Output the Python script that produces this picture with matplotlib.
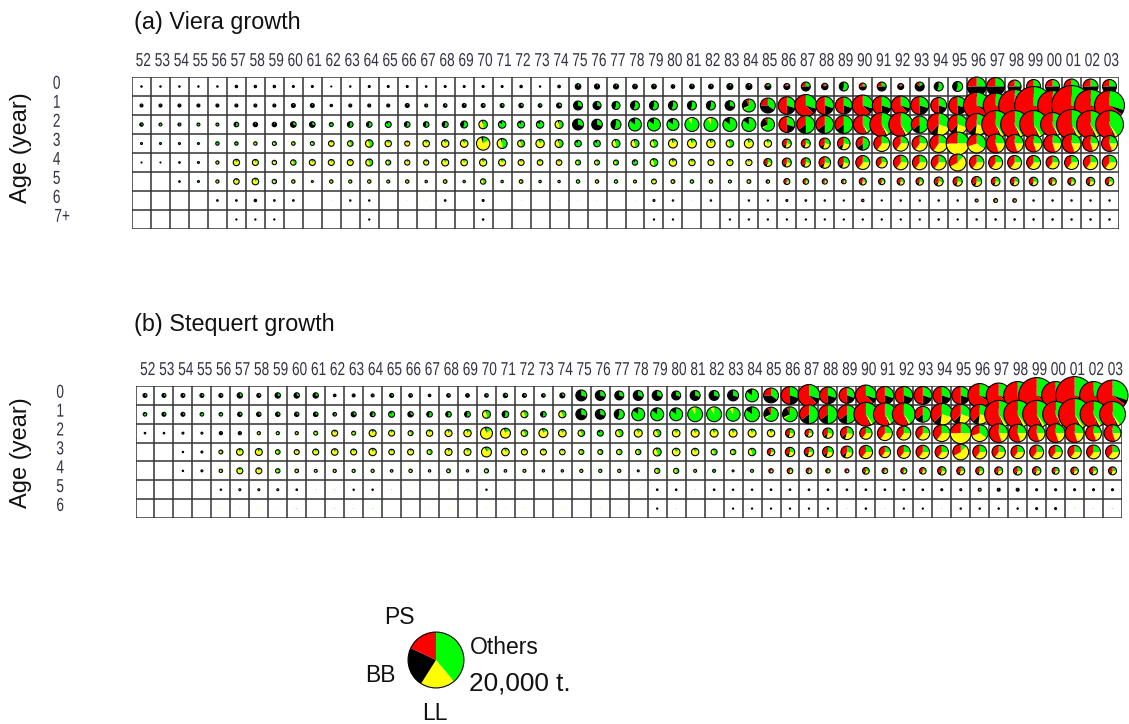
import numpy as np
import matplotlib
matplotlib.use('Agg')
import matplotlib.pyplot as plt
from matplotlib.patches import Wedge, Circle
from matplotlib.patheffects import AbstractPathEffect
from matplotlib.transforms import Affine2D

plt.rcParams['font.family'] = ['Liberation Sans', 'DejaVu Sans']

years = ['%02d' % (y % 100) for y in range(1952, 2004)]

# catch by age (t), 1952-2003
viera_0 = [12,12,12,12,12,37,37,37,25,25,6,12,25,25,
           25,16,25,25,25,25,37,12,43,200,160,160,135,135,83,135,135,230,230,
           230,230,516,260,516,312,516,230,516,516,638,2300,2070,1077,1250,1250,1435,1435,1250]
viera_1 = [57,57,57,57,57,57,57,57,100,100,37,57,57,57,
           100,57,83,100,100,100,123,83,160,516,408,408,516,516,516,516,516,588,1077,
           1435,1975,3090,2070,1840,2810,2300,2300,2070,1630,2070,4510,3985,6530,9200,5740,10200,6530,5740]
viera_2 = [74,57,57,57,57,135,123,123,200,200,100,200,200,230,
           200,200,230,312,472,350,312,350,408,770,716,638,1077,1077,918,1250,1250,1250,1250,
           1145,1630,2070,2070,2070,2300,3670,3670,1840,3370,2550,3090,5000,5000,5000,3670,5740,5000,5000]
viera_3 = [25,25,25,25,74,74,74,100,83,100,200,200,368,260,
           160,278,350,368,1145,638,312,450,408,278,278,408,408,350,516,516,450,350,516,
           350,516,516,770,1012,1145,1630,1512,1512,2070,3370,2300,2300,2070,1840,2070,2300,1630,1630]
viera_4 = [6,6,16,25,65,260,230,123,186,230,230,230,312,160,
           172,172,312,278,330,312,230,200,200,160,160,160,186,368,350,260,230,245,245,
           408,516,563,858,828,1250,770,1359,1359,1435,1840,1359,1250,1250,1250,1077,1250,1322,1359]
viera_5 = [0,0,16,25,65,200,278,123,74,25,74,65,74,57,
           74,37,83,37,186,37,83,37,37,74,74,74,57,147,92,74,74,57,92,
           74,230,200,172,135,312,260,330,350,516,540,638,472,472,472,350,368,450,450]
viera_6 = [0,0,0,0,16,16,37,16,16,0,4,12,12,0,
           4,4,16,0,25,0,4,0,4,4,4,4,4,25,12,4,12,4,12,
           9,25,16,12,9,37,9,12,12,12,12,57,100,83,12,12,12,12,12]
viera_7 = [0,0,0,0,0,9,9,9,0,0,0,0,9,0,
           0,0,0,0,12,0,0,0,0,0,0,0,0,9,9,0,0,9,9,
           9,9,9,9,9,9,9,9,9,12,9,12,12,12,12,12,12,12,12]

steq_0 = [100,100,100,100,100,186,100,186,186,186,43,57,57,100,
          83,43,83,83,83,123,100,83,160,770,638,516,638,638,516,638,638,770,1077,
          1435,2070,3090,1840,1630,2810,2070,2070,2070,2070,2070,3670,3985,5000,8270,5000,9200,5000,6125]
steq_1 = [83,100,100,83,83,123,123,123,123,135,83,160,160,230,
          186,200,200,214,408,278,312,200,330,770,638,638,1077,1077,1077,1435,1435,1250,1435,
          1322,1435,2300,2300,2300,3670,3370,3370,1630,3090,2550,2550,5000,5000,5000,4310,6530,4650,4310]
steq_2 = [16,16,25,25,65,65,65,65,65,100,230,100,312,230,
          160,260,312,350,918,638,278,516,368,278,230,350,408,330,368,408,408,408,408,
          350,516,408,690,1077,980,1435,1250,1250,1840,2810,1840,2300,2070,1840,2300,2300,1630,1840]
steq_3 = [0,0,12,25,100,278,312,135,160,230,278,230,350,200,
          230,160,312,312,638,368,230,230,200,160,160,186,186,408,368,350,230,186,350,
          350,563,563,770,918,1145,828,1077,1180,1145,1630,1250,1145,1145,1250,1145,1145,1250,1250]
steq_4 = [0,0,12,25,74,230,230,123,83,57,65,65,65,43,
          74,37,92,37,112,43,57,37,37,65,65,65,25,172,172,57,57,25,57,
          123,200,200,123,100,295,200,230,278,450,408,408,408,450,450,312,368,408,408]
steq_5 = [0,0,0,0,12,25,25,25,16,4,4,12,12,4,
          4,4,4,4,12,4,4,0,4,4,4,4,4,16,16,4,16,12,12,
          16,16,16,16,16,16,16,16,16,25,25,57,57,57,25,25,25,25,25]
steq_6 = [0,0,0,0,4,4,4,4,4,0,4,4,4,0,
          0,4,4,0,4,4,4,0,4,0,4,4,0,9,4,0,0,9,9,
          9,9,9,9,4,12,4,9,9,4,12,12,12,12,25,25,4,4,4]

viera_catch = [viera_0, viera_1, viera_2, viera_3, viera_4, viera_5, viera_6, viera_7]
steq_catch = [steq_0, steq_1, steq_2, steq_3, steq_4, steq_5, steq_6]

# gear mix of each cell, one letter per year (see gear_mix)
# shares are Others, LL, BB, PS
gear_mix = {
    'a': (.10, 0, .90, 0), 'b': (.30, 0, .70, 0), 'c': (.55, 0, .45, 0),
    'g': (.85, 0, .15, 0), 'L': (.92, .08, 0, 0), 'o': (.50, .45, .05, 0),
    'y': (.15, .80, .05, 0), 'e': (.15, 0, .70, .15), 'N': (.25, 0, .50, .25),
    'h': (.65, .03, .25, .07), 'D': (.35, 0, .40, .25), 'B': (.30, 0, .20, .50),
    'R': (.30, 0, .08, .62), 'S': (.30, 0, .05, .65), 'T': (.50, 0, .15, .35),
    'U': (.40, .03, .02, .55), 'X': (.30, .22, .10, .38), 'W': (.25, .35, 0, .40),
    'Z': (.25, .50, 0, .25), 'Y': (.35, .35, 0, .30), 'Q': (.25, .20, 0, .55),
    'J': (.12, .55, 0, .33), 'P': (.28, .27, .10, .35),
}
viera_mix = [
    'aaaaaaaaaaaaaa' 'aaaaaaaaa' 'aaaaaaaaaa' 'eeNecNNeecc' 'NNNNNNNN',
    'aaaaaaaaaaaaaa' 'abbabbbbb' 'bbccccccbh' 'DBRBBRBRBBB' 'SSSSSSSS',
    'bgcggcaabbgccg' 'ccccogggo' 'bbcgggLLgg' 'hBTTTUUUTXX' 'XUUUUUUU',
    'ggggggooooyooy' 'yyyyyooyo' 'ggoooyyyoy' 'yPPPPTWWWWZ' 'YQQQQQQQ',
    'LLagoyyyoyyyoo' 'yyyyyyyyy' 'ooogoyyyyy' 'PPPPPWWWWWJ' 'WWWWWWWW',
    'aaagoyyooyoooo' 'ooooooooo' 'ooooyooooo' 'PPPPPPPPPPP' 'PPPPPPPP',
    'aaaaaaaaaayaaa' 'yyaaaayay' 'yyyygayaya' 'aPyaaPagggg' 'PPPggggg',
    'aaaaaaaaaaaaaa' 'aaaaaaaaa' 'aaaaaaaaaa' 'aaaaaaaaaaa' 'aagggggg',
]
steq_mix = [
    'bbbbbbbbbbaabb' 'bababbbbb' 'bbbbbbbbbg' 'DBRBBRBBBBB' 'SSSSSSSS',
    'gbbggbbbbbcbcg' 'bcccococo' 'bbcgggLLLg' 'hhTTTUUUTXX' 'XUUUUUUU',
    'ggggaaooooyoyy' 'oyyyyyoyy' 'ogoyoyyyyy' 'yPPPPWWWWWZ' 'YQQQQQQQ',
    'aaagoyyoyyyyyy' 'yoyyyyyyy' 'oooooyyooo' 'PPPPPWWWWWJ' 'WWWWWWWW',
    'aaagoyyooooooo' 'ooooooooo' 'ooogooogoo' 'PPPPPPPPPPP' 'PPPPPPPP',
    'aaaaayyyaLLaaL' 'yyyyayyyy' 'yyyygaLaaa' 'gPgggaaaaaP' 'Paaaaaaa',
    'aaaayyyyLaLLLa' 'ayyayyyay' 'ayyyaLaaaa' 'aaaaLaLaaLa' 'aaaaaLLL',
]

gear_colors = ['#00ff00', '#ffff00', '#000000', '#ff0000']
KEY_CATCH = 20000
KEY_SHARES = (.39, .20, .23, .18)
KEY_RADIUS = 1.47  # cells, radius of the 20,000 t pie

W, H = 1129, 724


class Narrow(AbstractPathEffect):
    # no condensed face installed, so squeeze the glyphs sideways
    def __init__(self, sx):
        super().__init__()
        self.sx = sx

    def draw_path(self, renderer, gc, tpath, affine, rgbFace=None):
        ext = tpath.get_extents()
        cx = (ext.x0 + ext.x1) / 2
        squeeze = Affine2D().translate(-cx, 0).scale(self.sx, 1).translate(cx, 0)
        renderer.draw_path(gc, tpath, squeeze + affine, rgbFace)


def pixel_axes(left, top, right, bottom):
    return fig.add_axes([left / W, 1 - bottom / H, (right - left) / W, (bottom - top) / H])


def draw_pie(ax, x, y, catch, shares):
    if catch <= 0:
        return
    r = KEY_RADIUS * np.sqrt(catch / KEY_CATCH)
    start = 0
    for share, col in zip(shares, gear_colors):
        if share > 0:
            # y axis runs downward, so rising angles go clockwise from the top
            ax.add_patch(Wedge((x, y), r, -90 + start * 360, -90 + (start + share) * 360,
                               fc=col, ec='none', clip_on=False, zorder=3))
        start += share
    if catch >= 5:
        ax.add_patch(Circle((x, y), r, fc='none', ec='black', lw=0.8, clip_on=False, zorder=3))


def draw_panel(box, catch, mix, age_labels, title, title_y, age_y, xoff):
    ax = pixel_axes(*box)
    n_age = len(catch)
    ax.set_xlim(0, len(years))
    ax.set_ylim(n_age, 0)
    ax.hlines(np.arange(n_age + 1), 0, len(years), color='#333333', lw=1.1, zorder=1)
    ax.vlines(np.arange(len(years) + 1), 0, n_age, color='#333333', lw=1.1, zorder=1)
    for i in range(n_age):
        for j in range(len(years)):
            draw_pie(ax, j + .5, i + .5, catch[i][j], gear_mix[mix[i][j]])

    for s in ax.spines.values():
        s.set_visible(False)
    ax.xaxis.tick_top()
    ax.set_xticks(np.arange(len(years)) + .5 + xoff)
    ax.set_xticklabels(years, fontsize=13.5, color='#333344')
    ax.set_yticks(np.arange(n_age) + .28)
    ax.set_yticklabels(age_labels, fontsize=13.5, color='#333344', ha='left')
    ax.tick_params(length=0)
    ax.tick_params(axis='x', pad=5)
    ax.tick_params(axis='y', pad=58)
    for lab in ax.get_xticklabels() + ax.get_yticklabels():
        lab.set_path_effects([Narrow(.73)])
    fig.text(134 / W, 1 - title_y / H, title, fontsize=16.8, va='center', color='#111111')
    fig.text(21 / W, 1 - age_y / H, 'Age (year)',
             rotation=90, fontsize=17, va='center', ha='center', color='#111111')
    return ax


fig = plt.figure(figsize=(W / 100, H / 100), dpi=100, facecolor='white')

draw_panel((132, 77, 1119, 229), viera_catch, viera_mix,
           ['0', '1', '2', '3', '4', '5', '6', '7+'], '(a) Viera growth', 23, 148, .1)
draw_panel((135.5, 386, 1122, 518), steq_catch, steq_mix,
           ['0', '1', '2', '3', '4', '5', '6'], '(b) Stequert growth', 324, 453, .15)

# key
key = pixel_axes(398, 622, 474, 698)
key.set_xlim(0, 4)
key.set_ylim(4, 0)
key.axis('off')
draw_pie(key, 2, 2, KEY_CATCH, KEY_SHARES)
for txt, x, y, size in [('PS', 399, 618, 16.5), ('Others', 504, 647, 16.5), ('BB', 380, 675, 16.5),
                        ('20,000 t.', 520, 683, 18.8), ('LL', 435, 713, 16.5)]:
    fig.text(x / W, 1 - y / H, txt, fontsize=size, ha='center', va='center', color='#111111')

fig.savefig('out.png', dpi=100, facecolor='white')
